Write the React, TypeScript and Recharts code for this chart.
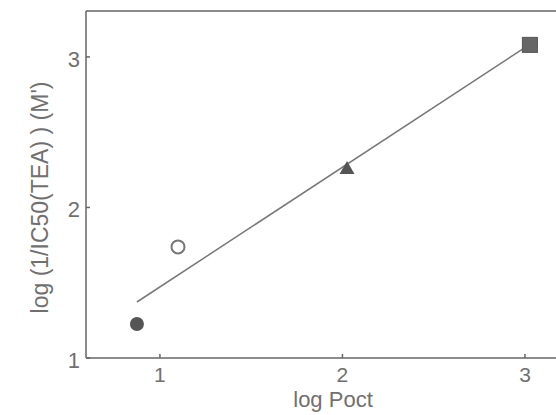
import React from "react";
import { ScatterChart, Scatter, XAxis, YAxis } from "recharts";

// log Poct vs log(1/IC50(TEA))
const filledCircle = [{ x: 0.874, y: 1.226 }];
const openCircle = [{ x: 1.099, y: 1.738 }];
const triangle = [{ x: 2.025, y: 2.262 }];
const square = [{ x: 3.027, y: 3.08 }];
const fitLine = [
  { x: 0.874, y: 1.372 },
  { x: 3.01, y: 3.07 },
];

const xTicks = [1, 2, 3];
const yTicks = [1, 2, 3];
const xDomain = [0.595, 3.17];
const yDomain = [1, 3.305];

const AXIS = "#666";
const TEXT = "#707070";
const MARK = "#555";
const FONT = "'Liberation Sans', Arial, sans-serif";

const YTick = (props: any) => {
  const { x, y, payload } = props;
  return (
    <g>
      <line x1={x + 10} x2={x + 14} y1={y} y2={y} stroke={AXIS} strokeWidth={1.5} />
      <text x={x + 4} y={y} dy={10} textAnchor="end" fill={TEXT} fontSize={22} fontFamily={FONT}>
        {payload.value}
      </text>
    </g>
  );
};

const XTick = (props: any) => {
  const { x, y, payload } = props;
  return (
    <g>
      <line x1={x} x2={x} y1={y - 10} y2={y - 14} stroke={AXIS} strokeWidth={1.5} />
      <text x={x} y={y} dy={14} textAnchor="middle" fill={TEXT} fontSize={21} fontFamily={FONT}>
        {payload.value}
      </text>
    </g>
  );
};

const YLabel = (props: any) => {
  const { viewBox } = props;
  const cx = viewBox.x + 40;
  const cy = viewBox.y + viewBox.height / 2 + 13;
  return (
    <text
      x={cx}
      y={cy}
      transform={`rotate(-90, ${cx}, ${cy})`}
      textAnchor="middle"
      dominantBaseline="central"
      fill={TEXT}
      fontSize={23}
      fontFamily={FONT}
    >
      log (1/IC50(TEA) ) (M')
    </text>
  );
};

const XLabel = (props: any) => {
  const { viewBox } = props;
  return (
    <text
      x={viewBox.x + viewBox.width / 2 + 12}
      y={viewBox.y + 49}
      textAnchor="middle"
      fill={TEXT}
      fontSize={22}
      fontFamily={FONT}
    >
      log Poct
    </text>
  );
};

const FilledDot = (p: any) => <circle cx={p.cx} cy={p.cy} r={7} fill={MARK} />;
const OpenDot = (p: any) => (
  <circle cx={p.cx} cy={p.cy} r={6.5} fill="#fff" stroke="#777" strokeWidth={2} />
);
const Tri = (p: any) => (
  <polygon
    points={`${p.cx},${p.cy - 7} ${p.cx + 7.5},${p.cy + 6} ${p.cx - 7.5},${p.cy + 6}`}
    fill={MARK}
  />
);
const Sq = (p: any) => (
  <rect x={p.cx - 7.5} y={p.cy - 7.5} width={15} height={15} fill="#666" stroke="#555" strokeWidth={1} />
);
const NoDot = () => <g />;

export default function App() {
  return (
    <div style={{ position: "absolute", left: 0, top: 0, background: "#fff" }}>
      <ScatterChart width={556} height={415} margin={{ top: 10, right: 0, bottom: 0, left: 0 }}>
        <XAxis
          xAxisId="top"
          orientation="top"
          type="number"
          dataKey="x"
          domain={xDomain}
          height={1}
          tick={false}
          tickLine={false}
          axisLine={{ stroke: AXIS, strokeWidth: 1.5 }}
        />
        <XAxis
          type="number"
          dataKey="x"
          domain={xDomain}
          ticks={xTicks}
          allowDataOverflow
          height={57}
          tickSize={0}
          tickMargin={10}
          tick={<XTick />}
          axisLine={{ stroke: AXIS, strokeWidth: 1.5 }}
          label={<XLabel />}
        />
        <YAxis
          type="number"
          dataKey="y"
          domain={yDomain}
          ticks={yTicks}
          allowDataOverflow
          width={86}
          tickSize={0}
          tickMargin={10}
          tick={<YTick />}
          axisLine={{ stroke: AXIS, strokeWidth: 1.5 }}
          label={<YLabel />}
        />
        <Scatter
          data={fitLine}
          line={{ stroke: "#777", strokeWidth: 1.5 }}
          shape={NoDot}
          isAnimationActive={false}
        />
        <Scatter data={filledCircle} shape={FilledDot} isAnimationActive={false} />
        <Scatter data={openCircle} shape={OpenDot} isAnimationActive={false} />
        <Scatter data={triangle} shape={Tri} isAnimationActive={false} />
        <Scatter data={square} shape={Sq} isAnimationActive={false} />
      </ScatterChart>
    </div>
  );
}
